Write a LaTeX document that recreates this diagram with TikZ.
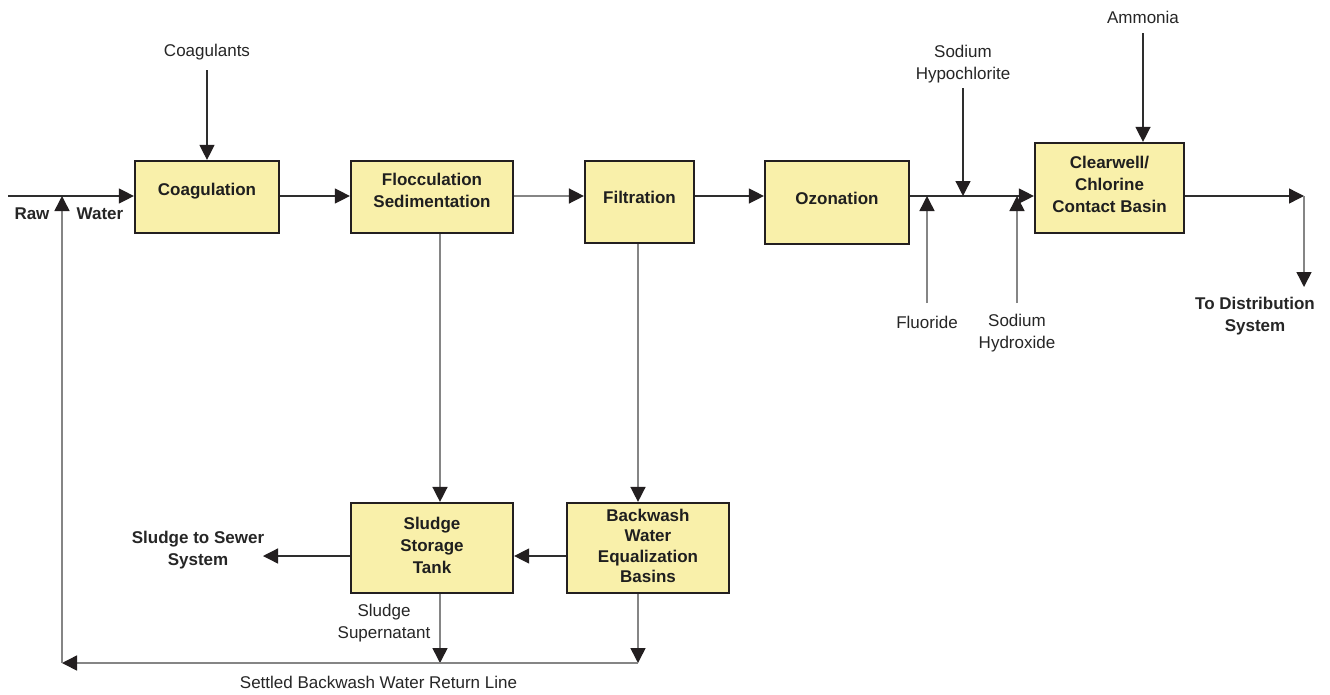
\documentclass[tikz,border=0pt]{standalone}
\usepackage{fontspec}
\setmainfont{Liberation Sans}
\usetikzlibrary{arrows.meta}
\definecolor{boxfill}{HTML}{F9F0AA}
\definecolor{flowline}{HTML}{2E2E2E}
\definecolor{feedline}{HTML}{858585}
\definecolor{tipfill}{HTML}{231F20}
% centred block of lines, lifted inside its box without changing the box size
\newcommand{\boxlines}[2]{\raisebox{#1}[\height][\depth]{\begin{tabular}{@{}c@{}}#2\end{tabular}}}

\begin{document}
\begin{tikzpicture}[x=1pt,y=-1pt,
  box/.style={draw=tipfill, line width=2.2pt, fill=boxfill, inner sep=0pt,
    font=\fontsize{17}{22}\selectfont\bfseries, text=black!88},
  lbl/.style={font=\fontsize{17}{22}\selectfont, align=center, inner sep=0pt, text=black!85},
  blbl/.style={lbl, font=\fontsize{17}{22}\selectfont\bfseries},
  flow/.style={draw=flowline, line width=1.3pt},
  feed/.style={draw=feedline, line width=1.5pt},
  tip/.style={-{Triangle[length=15pt,width=15pt,color=tipfill]}},
]
\fill[white] (0,0) rectangle (1330,694);
\useasboundingbox (0,0) rectangle (1330,694);

% process units
\node[box, minimum width=144pt, minimum height=72pt] (coag)   at (207,197)   {\boxlines{6.4pt}{Coagulation}};
\node[box, minimum width=162pt, minimum height=72pt] (floc)   at (432,197)   {\boxlines{5.4pt}{Flocculation\\Sedimentation}};
\node[box, minimum width=109pt, minimum height=82pt] (filt)   at (639.5,202) {\boxlines{3.4pt}{Filtration}};
\node[box, minimum width=144pt, minimum height=83pt] (ozon)   at (837,202.5) {\boxlines{2.9pt}{Ozonation}};
\node[box, minimum width=149pt, minimum height=90pt] (clear)  at (1109.5,188){\boxlines{2.4pt}{Clearwell/\\Chlorine\\Contact Basin}};
\node[box, minimum width=162pt, minimum height=90pt] (sludge) at (432,548)   {\boxlines{0.9pt}{Sludge\\Storage\\Tank}};
\node[box, minimum width=162pt, minimum height=90pt] (bw)     at (648,548)   {\fontsize{17}{20.5}\selectfont\boxlines{0pt}{Backwash\\Water\\Equalization\\Basins}};

% labels
\node[blbl] (raw)        at (32,214)   {Raw};
\node[blbl] (water)      at (100,214)  {Water};
\node[lbl]  (coagulants) at (207,52)   {Coagulants};
\node[lbl]  (hypo)       at (963,64)   {Sodium\\Hypochlorite};
\node[lbl]  (ammonia)    at (1143,17)  {Ammonia};
\node[lbl]  (fluoride)   at (927,322)  {Fluoride};
\node[lbl]  (hydroxide)  at (1017,333) {Sodium\\Hydroxide};
\node[blbl] (dist)       at (1255,316) {To Distribution\\System};
\node[blbl] (sewer)      at (198,550)  {Sludge to Sewer\\System};
\node[lbl]  (supern)     at (384,623)  {Sludge\\Supernatant};
\node[lbl]  (returnline) at (378.5,682){Settled Backwash Water Return Line};

% reference points for the pipe runs
\coordinate (main)     at (0,196);
\coordinate (rawin)    at (8,196);
\coordinate (rawjoin)  at (62,196);
\coordinate (coagin)   at (207,70);
\coordinate (hypoin)   at (963,88);
\coordinate (ammin)    at (1143,33);
\coordinate (fluin)    at (927,303);
\coordinate (hydin)    at (1017,303);
\coordinate (outc)     at (1304,196);
\coordinate (outd)     at (1304,287);
\coordinate (fx)       at (440,0);
\coordinate (bx)       at (638,0);
\coordinate (rowy)     at (0,556);
\coordinate (sewerend) at (263,556);
\coordinate (retS)     at (440,663);
\coordinate (retR)     at (638,663);
\coordinate (retL)     at (62,663);

% main treatment train
\draw[flow,tip] (rawin) -- (rawin -| coag.west);
\draw[flow,tip] (coag.east |- main) -- (floc.west |- main);
\draw[feed,tip] (floc.east |- main) -- (filt.west |- main);
\draw[flow,tip] (filt.east |- main) -- (ozon.west |- main);
\draw[flow,tip] (ozon.east |- main) -- (clear.west |- main);
\draw[flow,tip] (clear.east |- main) -- (outc);
\draw[feed,tip] (outc) -- (outd);

% chemical feeds
\draw[flow,tip] (coagin) -- (coag.north);
\draw[flow,tip] (hypoin) -- (hypoin |- main);
\draw[flow,tip] (ammin) -- (ammin |- clear.north);
\draw[feed,tip] (fluin) -- (fluin |- main);
\draw[feed,tip] (hydin) -- (hydin |- main);

% solids handling
\draw[feed,tip] (fx |- floc.south) -- (fx |- sludge.north);
\draw[feed,tip] (bx |- filt.south) -- (bx |- bw.north);
\draw[flow,tip] (bw.west |- rowy) -- (sludge.east |- rowy);
\draw[flow,tip] (sludge.west |- rowy) -- (sewerend);
\draw[feed,tip] (fx |- sludge.south) -- (retS);
\draw[feed,tip] (bx |- bw.south) -- (retR);

% settled backwash water return
\draw[feed,tip] (retR) -- (retL);
\draw[feed,tip] (retL) -- (rawjoin);
\end{tikzpicture}
\end{document}
